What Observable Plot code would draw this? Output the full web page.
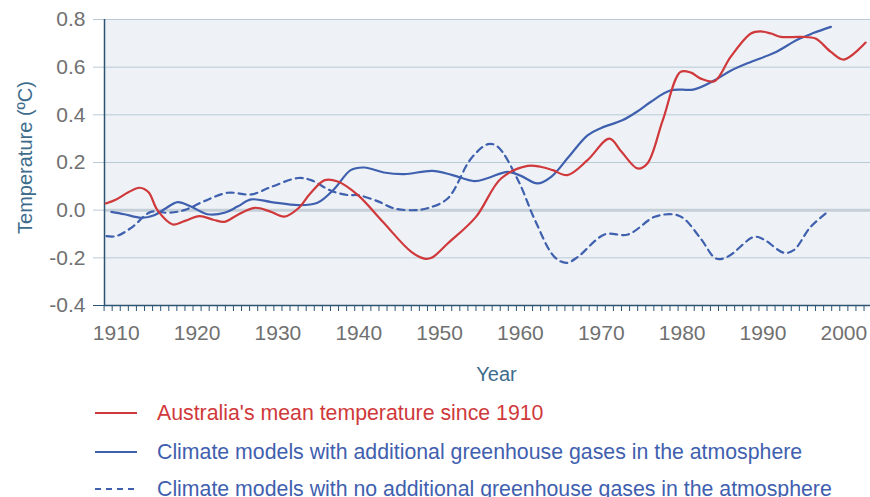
<!DOCTYPE html>
<html>
<head>
<meta charset="utf-8">
<script src="https://cdn.jsdelivr.net/npm/d3@7"></script>
<script src="https://cdn.jsdelivr.net/npm/@observablehq/plot@0.6"></script>
<style>
  html, body { margin: 0; padding: 0; background: #ffffff; }
  #wrap { position: relative; width: 870px; height: 497px; overflow: hidden; font-family: "Liberation Sans", Arial, sans-serif; }
  #legend { position: absolute; left: 0; top: 0; width: 870px; }
  .row { position: absolute; left: 95px; height: 30px; display: flex; align-items: center; }
  .row svg { width: 44px; height: 10px; margin-right: 18px; }
  .row span { font-size: 21.3px; white-space: nowrap; }
</style>
</head>
<body>
<div id="wrap">
  <div id="chart"></div>
  <div id="legend"></div>
</div>
<script>
// ---- data ----
const seriesNames = [
  "Australia's mean temperature since 1910",
  "Climate models with additional greenhouse gases in the atmosphere",
  "Climate models with no additional greenhouse gases in the atmosphere"
];

const obsYears = [1908.7, 1910, 1911.5, 1912.9, 1914, 1915.1, 1917, 1918.5, 1920.3, 1922, 1923.4, 1925, 1927.1, 1929, 1930.8, 1932.5, 1934, 1935.8, 1937.4, 1939.9, 1943, 1946.5, 1948.1, 1949, 1951, 1954.5, 1957.6, 1960.9, 1962.5, 1964, 1965.8, 1968.3, 1971, 1972.5, 1974.5, 1975.7, 1977.6, 1979.8, 1981.1, 1982.3, 1984, 1986, 1988.5, 1989.7, 1991, 1992.2, 1994.7, 1996.5, 1998.4, 2000, 2002.7];
const obsValues = [0.028, 0.045, 0.075, 0.094, 0.075, 0.0, -0.06, -0.045, -0.025, -0.04, -0.049, -0.02, 0.01, -0.005, -0.027, 0.007, 0.07, 0.126, 0.12, 0.063, -0.05, -0.175, -0.203, -0.2, -0.14, -0.028, 0.133, 0.186, 0.182, 0.168, 0.147, 0.21, 0.30, 0.245, 0.175, 0.196, 0.377, 0.58, 0.577, 0.552, 0.541, 0.643, 0.741, 0.75, 0.741, 0.727, 0.727, 0.72, 0.664, 0.632, 0.703];

const ghgYears = [1909.4, 1911, 1913.1, 1914.7, 1916, 1917.6, 1919.3, 1921.3, 1923.4, 1925, 1926.7, 1929.2, 1932.5, 1934.9, 1937, 1939, 1940.7, 1943.1, 1945.6, 1949.1, 1951.5, 1954.3, 1956, 1958.4, 1960, 1962.1, 1963.8, 1966, 1968.3, 1970, 1972.6, 1974.5, 1976.1, 1978.6, 1981.5, 1984, 1986, 1988.5, 1991.4, 1994.3, 1996.3, 1998.4];
const ghgValues = [-0.007, -0.017, -0.032, -0.021, 0.005, 0.034, 0.014, -0.017, -0.011, 0.015, 0.045, 0.034, 0.021, 0.031, 0.09, 0.168, 0.179, 0.158, 0.151, 0.165, 0.148, 0.122, 0.135, 0.161, 0.145, 0.112, 0.14, 0.225, 0.314, 0.345, 0.377, 0.415, 0.454, 0.503, 0.507, 0.545, 0.585, 0.622, 0.66, 0.716, 0.744, 0.769];

const natYears = [1908.8, 1910, 1911.9, 1914.3, 1916.4, 1918.4, 1920.9, 1923.8, 1926.7, 1929.2, 1932.5, 1934.1, 1936.6, 1938.7, 1939.9, 1942.3, 1944.4, 1947, 1948.5, 1951, 1953.9, 1956, 1957.2, 1959.7, 1961.8, 1964.2, 1965.7, 1967.1, 1970.4, 1973.3, 1976.6, 1979, 1980.2, 1982.3, 1984.2, 1985.6, 1988.9, 1990.1, 1992.6, 1993.8, 1995.9, 1998];
const natValues = [-0.109, -0.109, -0.073, -0.007, -0.011, 0.0, 0.038, 0.073, 0.066, 0.098, 0.135, 0.126, 0.081, 0.063, 0.063, 0.038, 0.007, 0.0, 0.008, 0.049, 0.217, 0.277, 0.266, 0.126, -0.042, -0.196, -0.221, -0.196, -0.102, -0.102, -0.028, -0.018, -0.035, -0.119, -0.203, -0.196, -0.112, -0.123, -0.179, -0.168, -0.07, -0.007];

const xTickLabels = [1910, 1920, 1930, 1940, 1950, 1960, 1970, 1980, 1990, 2000];
const yTickLabels = [-0.4, -0.2, 0.0, 0.2, 0.4, 0.6, 0.8];

// ---- build tables ----
const obs = obsYears.map((x, i) => ({x, y: obsValues[i]}));
const ghg = ghgYears.map((x, i) => ({x, y: ghgValues[i]}));
const nat = natYears.map((x, i) => ({x, y: natValues[i]}));
const minorTicks = d3.range(1909, 2004).map(y => y - 0.5);

const RED = "#d0393b", BLUE = "#3f60ae", DARK = "#2c5574", GRID = "#b9c9d6";
const TICKTXT = "#707070", TITLE = "#3d6c8c";
const xDomain = [1908.55, 2003.3];
const fmt = d => d.toFixed(1);

const chart = Plot.plot({
  width: 870,
  height: 392,
  marginLeft: 104,
  marginRight: 0,
  marginTop: 19,
  marginBottom: 87,
  style: {fontFamily: "'Liberation Sans', Arial, sans-serif", background: "transparent", overflow: "visible"},
  x: {domain: xDomain},
  y: {domain: [-0.4, 0.8]},
  marks: [
    Plot.frame({fill: "#eef2f6", stroke: null}),
    Plot.ruleY(yTickLabels.filter(v => v !== 0 && v !== -0.4), {stroke: GRID, strokeWidth: 1}),
    Plot.ruleY([0], {stroke: "#c5cfd8", strokeWidth: 3}),
    Plot.axisY(yTickLabels.filter(v => v !== -0.4), {tickSize: 11, tickPadding: 8, stroke: GRID, fill: TICKTXT, fontSize: 21, tickFormat: fmt, label: null}),
    Plot.axisY([-0.4], {tickSize: 11, tickPadding: 8, stroke: DARK, fill: TICKTXT, fontSize: 21, tickFormat: fmt, label: null}),
    Plot.axisX(xTickLabels, {tickSize: 0, tickPadding: 20, fill: TICKTXT, fontSize: 21, tickFormat: d => String(d), label: null}),
    Plot.axisX(minorTicks, {tickSize: 6, stroke: DARK, strokeWidth: 1, tickFormat: () => "", label: null}),
    Plot.ruleY([-0.4], {stroke: DARK, strokeWidth: 1.5}),
    Plot.ruleX([xDomain[0]], {stroke: DARK, strokeWidth: 1.5}),
    Plot.text(["Temperature (ºC)"], {text: d => d, frameAnchor: "left", textAnchor: "middle", lineAnchor: "middle", dx: -79, dy: -5, rotate: -90, fontSize: 20, fill: TITLE}),
    Plot.text(["Year"], {text: d => d, frameAnchor: "bottom", textAnchor: "middle", lineAnchor: "middle", dx: 9, dy: 69, fontSize: 20, fill: TITLE}),
    Plot.line(nat, {x: "x", y: "y", stroke: BLUE, strokeWidth: 2.2, strokeDasharray: "7,5", curve: "catmull-rom"}),
    Plot.line(ghg, {x: "x", y: "y", stroke: BLUE, strokeWidth: 2.2, curve: "catmull-rom"}),
    Plot.line(obs, {x: "x", y: "y", stroke: RED, strokeWidth: 2.2, curve: "catmull-rom"})
  ]
});
document.getElementById("chart").appendChild(chart);

// ---- legend ----
const legendItems = [
  {name: seriesNames[0], color: RED, dash: null, top: 398},
  {name: seriesNames[1], color: BLUE, dash: null, top: 437},
  {name: seriesNames[2], color: BLUE, dash: "6,5", top: 474}
];
const legend = document.getElementById("legend");
for (const it of legendItems) {
  const row = document.createElement("div");
  row.className = "row";
  row.style.top = it.top + "px";
  row.innerHTML = `<svg viewBox="0 0 44 10"><line x1="0" y1="5" x2="42" y2="5" stroke="${it.color}" stroke-width="2" ${it.dash ? `stroke-dasharray="${it.dash}"` : ""}/></svg><span style="color:${it.color}">${it.name}</span>`;
  legend.appendChild(row);
}
</script>
</body>
</html>
